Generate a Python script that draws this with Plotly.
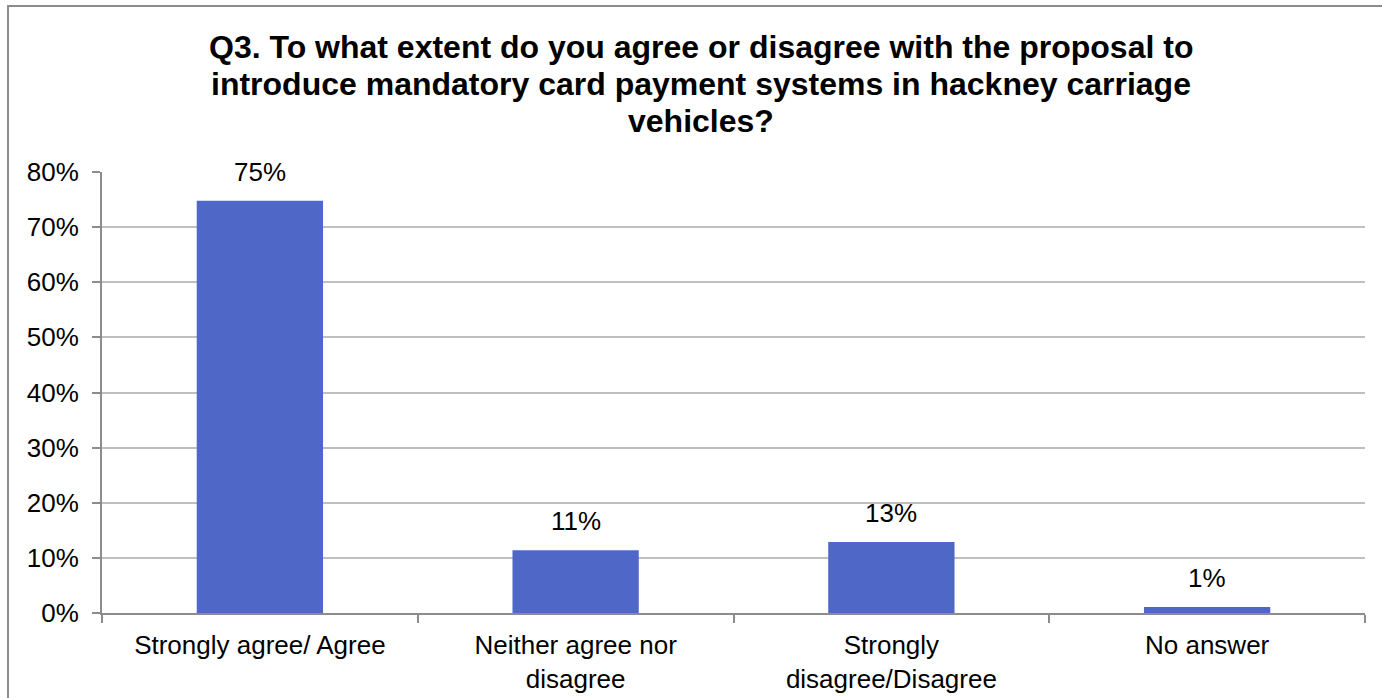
import plotly.graph_objects as go

# Survey responses to Q3
categories = [
    "Strongly agree/ Agree",
    "Neither agree nor<br>disagree",
    "Strongly<br>disagree/Disagree",
    "No answer",
]
shares = [0.748, 0.114, 0.129, 0.011]

y_ticks = [0, 0.1, 0.2, 0.3, 0.4, 0.5, 0.6, 0.7, 0.8]

title_lines = [
    "Q3. To what extent do you agree or disagree with the proposal to",
    "introduce mandatory card payment systems in hackney carriage",
    "vehicles?",
]

FONT = "Liberation Sans, Arial, sans-serif"
BAR_COLOR = "#4F68C8"
GRID = "#BFBFBF"
AXIS = "#8C8C8C"
LABEL_SIZE = 26
TITLE_SIZE = 32

W, H = 1382, 698
ML, MR, MT, MB = 102, 17, 172, 85
pw, ph = W - ML - MR, H - MT - MB


def px_to_paper_x(px):
    return (px - ML) / pw


def px_to_paper_y(py):
    return (H - MB - py) / ph


fig = go.Figure(
    go.Bar(
        x=categories,
        y=shares,
        marker=dict(color=BAR_COLOR, line=dict(width=0)),
        hoverinfo="skip",
    )
)

# value labels sitting above each bar
for cat, val in zip(categories, shares):
    fig.add_annotation(
        x=cat,
        y=val,
        xref="x",
        yref="y",
        text=f"{val:.0%}",
        showarrow=False,
        yanchor="bottom",
        yshift=12,
        font=dict(family=FONT, size=LABEL_SIZE, color="#000000"),
    )

# chart title, one line per annotation for tight line spacing
for i, line in enumerate(title_lines):
    fig.add_annotation(
        x=px_to_paper_x(701),
        y=px_to_paper_y(47 + 37 * i),
        xref="paper",
        yref="paper",
        text=f"<b>{line}</b>",
        showarrow=False,
        xanchor="center",
        yanchor="middle",
        font=dict(family=FONT, size=TITLE_SIZE, color="#000000"),
    )

fig.update_layout(
    width=W,
    height=H,
    margin=dict(l=ML, r=MR, t=MT, b=MB, autoexpand=False),
    paper_bgcolor="white",
    plot_bgcolor="white",
    bargap=0.6,
    showlegend=False,
    font=dict(family=FONT, size=LABEL_SIZE, color="#000000"),
    xaxis=dict(
        type="category",
        automargin=False,
        showline=True,
        linecolor=AXIS,
        linewidth=2,
        ticks="outside",
        tickson="boundaries",
        ticklen=8,
        tickcolor=AXIS,
        tickwidth=2,
        showgrid=False,
        ticklabelstandoff=8,
        tickfont=dict(family=FONT, size=LABEL_SIZE, color="#000000"),
    ),
    yaxis=dict(
        range=[0, 0.8],
        automargin=False,
        tickvals=y_ticks,
        tickformat=".0%",
        showline=True,
        linecolor=AXIS,
        linewidth=2,
        ticks="outside",
        ticklen=8,
        tickcolor=AXIS,
        tickwidth=2,
        showgrid=True,
        gridcolor=GRID,
        gridwidth=1.5,
        zeroline=False,
        ticklabelstandoff=8,
        tickfont=dict(family=FONT, size=LABEL_SIZE, color="#000000"),
    ),
    shapes=[
        dict(
            type="rect",
            xref="paper",
            yref="paper",
            x0=px_to_paper_x(8),
            x1=px_to_paper_x(1395),
            y0=px_to_paper_y(712),
            y1=px_to_paper_y(6),
            line=dict(color="#8C8C8C", width=2),
            fillcolor="rgba(0,0,0,0)",
            layer="below",
        )
    ],
)

fig.write_html("out.html")
